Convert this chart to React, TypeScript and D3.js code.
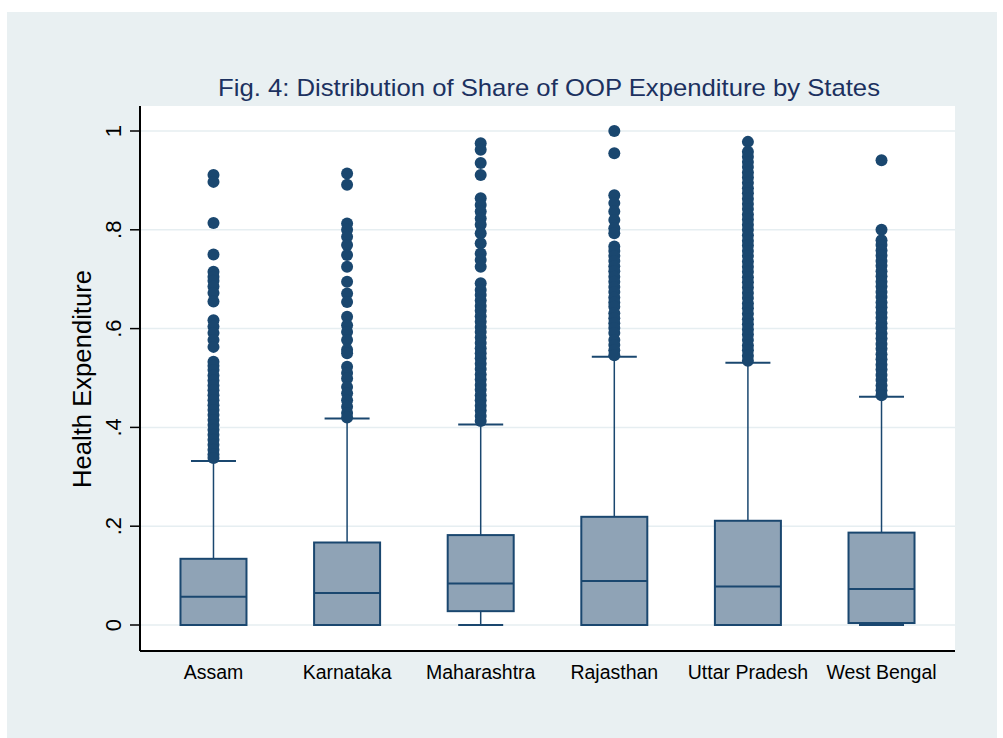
import { useEffect, useRef } from 'react';
import * as d3 from 'd3';

const states = ['Assam', 'Karnataka', 'Maharashtra', 'Rajasthan', 'Uttar Pradesh', 'West Bengal'];

// box stats
const lowerWhisker = [0, 0, 0, 0, 0, 0];
const q1 = [0, 0, 0.028, 0, 0, 0.004];
const median = [0.057, 0.065, 0.084, 0.089, 0.078, 0.073];
const q3 = [0.134, 0.167, 0.182, 0.219, 0.211, 0.187];
const upperWhisker = [0.332, 0.418, 0.406, 0.543, 0.531, 0.462];

const assamOutliers = [
  0.911, 0.897, 0.814, 0.75, 0.715, 0.705, 0.697, 0.685, 0.672, 0.655, 0.617, 0.604, 0.591, 0.577,
  0.563, 0.533, 0.525, 0.516, 0.505, 0.495, 0.485, 0.475, 0.465, 0.455, 0.445, 0.435, 0.425, 0.415,
  0.405, 0.395, 0.385, 0.375, 0.365, 0.355, 0.345, 0.338,
];
const karnatakaOutliers = [
  0.914, 0.891, 0.813, 0.8, 0.786, 0.769, 0.749, 0.725, 0.695, 0.671, 0.654, 0.624, 0.607, 0.593,
  0.577, 0.557, 0.55, 0.523, 0.51, 0.499, 0.482, 0.469, 0.455, 0.442, 0.429, 0.42,
];
const maharashtraOutliers = [
  0.975, 0.962, 0.935, 0.911, 0.864, 0.85, 0.837, 0.823, 0.81, 0.793, 0.773, 0.752, 0.739, 0.725,
  0.692, 0.678, 0.668, 0.657, 0.646, 0.636, 0.625, 0.614, 0.603, 0.593, 0.582, 0.571, 0.56, 0.55,
  0.54, 0.529, 0.518, 0.507, 0.497, 0.486, 0.476, 0.465, 0.455, 0.444, 0.434, 0.423, 0.413,
];
const rajasthanOutliers = [
  1.0, 0.955, 0.87, 0.854, 0.837, 0.82, 0.803, 0.793, 0.766, 0.757, 0.747, 0.737, 0.726, 0.716,
  0.705, 0.695, 0.684, 0.674, 0.663, 0.653, 0.644, 0.631, 0.621, 0.611, 0.601, 0.591, 0.577, 0.567,
  0.556, 0.546,
];
const uttarPradeshOutliers = [
  0.978, 0.958, 0.948, 0.937, 0.927, 0.916, 0.906, 0.895, 0.884, 0.874, 0.863, 0.852, 0.842, 0.831,
  0.821, 0.81, 0.8, 0.789, 0.778, 0.768, 0.757, 0.747, 0.736, 0.725, 0.715, 0.704, 0.694, 0.683,
  0.672, 0.662, 0.651, 0.641, 0.63, 0.619, 0.609, 0.598, 0.588, 0.577, 0.566, 0.556, 0.545, 0.535,
];
const westBengalOutliers = [
  0.941, 0.8, 0.779, 0.769, 0.758, 0.748, 0.737, 0.727, 0.716, 0.706, 0.695, 0.685, 0.674, 0.664,
  0.653, 0.643, 0.632, 0.622, 0.611, 0.601, 0.59, 0.58, 0.569, 0.559, 0.548, 0.538, 0.527, 0.517,
  0.506, 0.496, 0.485, 0.475, 0.465,
];
const outliers = [
  assamOutliers,
  karnatakaOutliers,
  maharashtraOutliers,
  rajasthanOutliers,
  uttarPradeshOutliers,
  westBengalOutliers,
];

const yTicks = [0, 0.2, 0.4, 0.6, 0.8, 1];
const yTickLabels = ['0', '.2', '.4', '.6', '.8', '1'];

const navy = '#1a476f';
const boxFill = '#8fa3b6';
const font = '"Liberation Sans", Arial, sans-serif';

export default function App() {
  const ref = useRef<SVGSVGElement>(null);

  useEffect(() => {
    const W = 1003;
    const H = 738;
    const plot = { left: 140, right: 955, top: 106, bottom: 651 };

    const svg = d3.select(ref.current);
    svg.selectAll('*').remove();

    svg.append('rect').attr('width', W).attr('height', H).attr('fill', '#fff');
    svg
      .append('rect')
      .attr('x', 7)
      .attr('y', 12)
      .attr('width', 990)
      .attr('height', 726)
      .attr('fill', '#e9f0f2');
    svg
      .append('rect')
      .attr('x', plot.left)
      .attr('y', plot.top)
      .attr('width', plot.right - plot.left)
      .attr('height', plot.bottom - plot.top)
      .attr('fill', '#fff');

    const x = d3.scalePoint<string>().domain(states).range([plot.left, plot.right]).padding(0.55);
    const y = d3.scaleLinear().domain([0, 1]).range([625, 131]);

    // grid
    svg
      .append('g')
      .selectAll('line')
      .data(yTicks)
      .join('line')
      .attr('x1', plot.left)
      .attr('x2', plot.right)
      .attr('y1', (d) => y(d))
      .attr('y2', (d) => y(d))
      .attr('stroke', '#e6eef1')
      .attr('stroke-width', 1.5);

    const boxW = 66;
    const capW = 45;
    const boxes = svg
      .append('g')
      .selectAll('g')
      .data(states)
      .join('g')
      .attr('transform', (d) => `translate(${x(d)},0)`);

    // whiskers
    boxes
      .append('line')
      .attr('y1', (_, i) => y(upperWhisker[i]))
      .attr('y2', (_, i) => y(lowerWhisker[i]))
      .attr('stroke', navy)
      .attr('stroke-width', 1.5);
    boxes
      .selectAll('line.cap')
      .data((_, i) => [upperWhisker[i], lowerWhisker[i]])
      .join('line')
      .attr('class', 'cap')
      .attr('x1', -capW / 2)
      .attr('x2', capW / 2)
      .attr('y1', (d) => y(d))
      .attr('y2', (d) => y(d))
      .attr('stroke', navy)
      .attr('stroke-width', 2);

    // boxes
    boxes
      .append('rect')
      .attr('x', -boxW / 2)
      .attr('y', (_, i) => y(q3[i]))
      .attr('width', boxW)
      .attr('height', (_, i) => y(q1[i]) - y(q3[i]))
      .attr('fill', boxFill)
      .attr('stroke', navy)
      .attr('stroke-width', 2);
    boxes
      .append('line')
      .attr('x1', -boxW / 2)
      .attr('x2', boxW / 2)
      .attr('y1', (_, i) => y(median[i]))
      .attr('y2', (_, i) => y(median[i]))
      .attr('stroke', navy)
      .attr('stroke-width', 2);

    // outliers
    boxes
      .selectAll('circle')
      .data((_, i) => outliers[i])
      .join('circle')
      .attr('cy', (d) => y(d))
      .attr('r', 6)
      .attr('fill', navy);

    // axes
    svg
      .append('line')
      .attr('x1', plot.left)
      .attr('x2', plot.left)
      .attr('y1', plot.top)
      .attr('y2', plot.bottom)
      .attr('stroke', '#000')
      .attr('stroke-width', 2);
    svg
      .append('line')
      .attr('x1', plot.left)
      .attr('x2', plot.right)
      .attr('y1', plot.bottom)
      .attr('y2', plot.bottom)
      .attr('stroke', '#000')
      .attr('stroke-width', 2);

    const yAxis = svg.append('g');
    yAxis
      .selectAll('line')
      .data(yTicks)
      .join('line')
      .attr('x1', plot.left - 10)
      .attr('x2', plot.left)
      .attr('y1', (d) => y(d))
      .attr('y2', (d) => y(d))
      .attr('stroke', '#000')
      .attr('stroke-width', 1.5);
    yAxis
      .selectAll('text')
      .data(yTicks)
      .join('text')
      .attr('transform', (d) => `translate(121,${y(d)}) rotate(-90)`)
      .attr('text-anchor', 'middle')
      .attr('font-family', font)
      .attr('font-size', 22)
      .attr('fill', '#000')
      .text((_, i) => yTickLabels[i]);

    svg
      .append('text')
      .attr('transform', `translate(91,${379}) rotate(-90)`)
      .attr('text-anchor', 'middle')
      .attr('font-family', font)
      .attr('font-size', 25)
      .attr('textLength', 218)
      .attr('lengthAdjust', 'spacingAndGlyphs')
      .attr('fill', '#000')
      .text('Health Expenditure');

    svg
      .append('g')
      .selectAll('text')
      .data(states)
      .join('text')
      .attr('x', (d) => x(d)!)
      .attr('y', 679)
      .attr('text-anchor', 'middle')
      .attr('font-family', font)
      .attr('font-size', 19.5)
      .attr('fill', '#000')
      .text((d) => d);

    svg
      .append('text')
      .attr('x', 549)
      .attr('y', 96)
      .attr('text-anchor', 'middle')
      .attr('font-family', font)
      .attr('font-size', 24)
      .attr('textLength', 662)
      .attr('lengthAdjust', 'spacingAndGlyphs')
      .attr('fill', '#1c3160')
      .text('Fig. 4: Distribution of Share of OOP Expenditure by States');
  }, []);

  return (
    <svg
      ref={ref}
      width={1003}
      height={738}
      style={{ position: 'absolute', left: 0, top: 0, display: 'block' }}
    />
  );
}
